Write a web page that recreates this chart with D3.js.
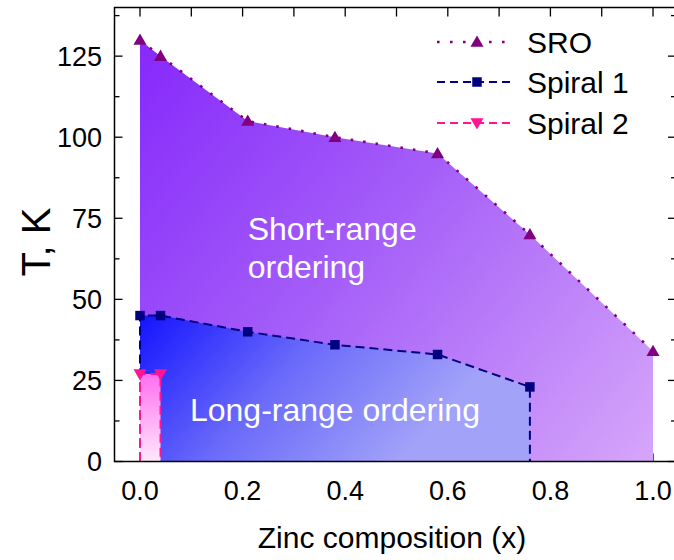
<!DOCTYPE html>
<html><head><meta charset="utf-8">
<script src="https://cdn.jsdelivr.net/npm/d3@7"></script>
<style>
body{margin:0;background:#fff}
svg{display:block}
text{font-family:"Liberation Sans",Arial,Helvetica,sans-serif;fill:#000}
</style>
</head><body>
<svg id="c" width="674" height="560"></svg>
<script>
// ---- data ----
const sroX = [0, 0.04, 0.21, 0.38, 0.58, 0.76, 1.0];
const sroT = [130, 125, 105, 100, 95, 70, 34];
const sp1X = [0, 0.04, 0.21, 0.38, 0.58, 0.76];
const sp1T = [45, 45, 40, 36, 33, 23];
const sp2X = [0, 0.04];
const sp2T = [27, 27];
const xTickVals = [0, 0.2, 0.4, 0.6, 0.8, 1.0];
const xTickLabels = ["0.0", "0.2", "0.4", "0.6", "0.8", "1.0"];
const xTopTicks = [0, 0.1, 0.2, 0.3, 0.4, 0.5, 0.6, 0.7, 0.8, 0.9, 1.0];
const yTickVals = [0, 25, 50, 75, 100, 125];
const yMinorVals = [12.5, 37.5, 62.5, 87.5, 112.5, 137.5];
const legendNames = ["SRO", "Spiral 1", "Spiral 2"];
const regionLabels = ["Short-range", "ordering", "Long-range ordering"];

// ---- layout ----
const L = 114.5, R = 676, T = 7.5, B = 461.5;
const svg = d3.select("#c");
const x = d3.scaleLinear().domain([-0.0497, 1.0448]).range([L, R]);
const y = d3.scaleLinear().domain([0, 140]).range([B, T]);

const sro = sroX.map((v, i) => [v, sroT[i]]);
const sp1 = sp1X.map((v, i) => [v, sp1T[i]]);
const sp2 = sp2X.map((v, i) => [v, sp2T[i]]);

// ---- gradients ----
const defs = svg.append("defs");
function grad(id, x1, y1, x2, y2, stops) {
  const g = defs.append("linearGradient").attr("id", id)
    .attr("gradientUnits", "userSpaceOnUse")
    .attr("x1", x1).attr("y1", y1).attr("x2", x2).attr("y2", y2);
  stops.forEach(s => g.append("stop").attr("offset", s[0]).attr("stop-color", s[1]));
}
grad("gSRO", x(0), y(135), x(1), y(0), [[0, "#8526fb"], [0.45, "#a35cf8"], [1, "#d6a6fa"]]);
grad("gSP1", x(0), y(45), x(0.42), y(-15), [[0, "#1414ff"], [0.5, "#6a6afa"], [1, "#a2a2f9"]]);
grad("gSP2", 0, y(27), 0, y(0), [[0, "#ff6ef0"], [1, "#ffe8fc"]]);

// ---- ticks (drawn under fills) ----
const tk = svg.append("g").attr("stroke", "#000").attr("stroke-width", 1.3);
yTickVals.forEach(v => {
  tk.append("line").attr("x1", L).attr("x2", L + 8).attr("y1", y(v)).attr("y2", y(v));
  tk.append("line").attr("x1", R).attr("x2", R - 8).attr("y1", y(v)).attr("y2", y(v));
});
yMinorVals.forEach(v => {
  tk.append("line").attr("x1", L).attr("x2", L + 5).attr("y1", y(v)).attr("y2", y(v));
  tk.append("line").attr("x1", R).attr("x2", R - 5).attr("y1", y(v)).attr("y2", y(v));
});
xTopTicks.forEach(v => {
  tk.append("line").attr("x1", x(v)).attr("x2", x(v)).attr("y1", T).attr("y2", T + 9);
  tk.append("line").attr("x1", x(v)).attr("x2", x(v)).attr("y1", B).attr("y2", B - 8);
});

// ---- fills ----
const area = d3.area().x(d => x(d[0])).y0(y(0)).y1(d => y(d[1]));
svg.append("path").datum(sro).attr("d", area).attr("fill", "url(#gSRO)");
svg.append("path").datum(sp1).attr("d", area).attr("fill", "url(#gSP1)");
svg.append("path").datum(sp2).attr("d", area).attr("fill", "url(#gSP2)");

// ---- text helper ----
function txt(sel, px, py, str, size, anchor) {
  return sel.append("text")
    .attr("transform", `translate(${px},${py})`)
    .attr("text-anchor", anchor || "start")
    .attr("font-size", size).text(str);
}
txt(svg, x(0.21), 240, regionLabels[0], 32).style("fill", "#fff");
txt(svg, x(0.21), 278, regionLabels[1], 32).style("fill", "#fff");
txt(svg, x(0.38), 421, regionLabels[2], 32, "middle").style("fill", "#fff");

// ---- lines ----
const line = d3.line().x(d => x(d[0])).y(d => y(d[1]));
const cSRO = "#800080", cS1 = "#000080", cS2 = "#ff1493";
svg.append("path").datum(sro).attr("d", line).attr("fill", "none")
  .attr("stroke", cSRO).attr("stroke-width", 2.6).attr("stroke-dasharray", "2.6,10");
svg.append("path").datum([[0, 0]].concat(sp1, [[sp1X[sp1X.length - 1], 0]])).attr("d", line)
  .attr("fill", "none").attr("stroke", cS1).attr("stroke-width", 2).attr("stroke-dasharray", "9,5");
svg.append("path").datum([[0, 0]].concat(sp2, [[sp2X[sp2X.length - 1], 0]])).attr("d", line)
  .attr("fill", "none").attr("stroke", cS2).attr("stroke-width", 2).attr("stroke-dasharray", "9,5");

// ---- markers ----
const triUp = d3.symbol().type(d3.symbolTriangle).size(74);
const sq = d3.symbol().type(d3.symbolSquare).size(90);
svg.append("g").selectAll("path").data(sro).join("path")
  .attr("d", triUp).attr("fill", cSRO)
  .attr("transform", d => `translate(${x(d[0])},${y(d[1]) + 1})`);
svg.append("g").selectAll("path").data(sp1).join("path")
  .attr("d", sq).attr("fill", cS1)
  .attr("transform", d => `translate(${x(d[0])},${y(d[1])})`);
svg.append("g").selectAll("path").data(sp2).join("path")
  .attr("d", triUp).attr("fill", cS2)
  .attr("transform", d => `translate(${x(d[0])},${y(d[1]) - 1}) rotate(180)`);

// ---- frame ----
svg.append("rect").attr("x", L).attr("y", T).attr("width", R - L).attr("height", B - T)
  .attr("fill", "none").attr("stroke", "#000").attr("stroke-width", 1.5);

// ---- tick labels ----
xTickVals.forEach((v, i) => txt(svg, x(v), 500, xTickLabels[i], 27, "middle"));
yTickVals.forEach(v => txt(svg, 102, y(v) + 9.5, String(v), 27, "end"));

// ---- axis titles ----
txt(svg, 392, 548, "Zinc composition (x)", 30, "middle");
svg.append("text").attr("transform", `translate(50,242) rotate(-90)`)
  .attr("text-anchor", "middle").attr("font-size", 40).text("T, K");

// ---- legend ----
const lg = svg.append("g");
const rowsY = [42, 82, 123];
const lgStyles = [
  {c: cSRO, dash: "2.6,10.4", w: 2.6, sym: triUp, rot: 0, dy: 1},
  {c: cS1, dash: "8,5", w: 2, sym: sq, rot: 0, dy: 0},
  {c: cS2, dash: "8,5", w: 2, sym: triUp, rot: 180, dy: -1}
];
legendNames.forEach((n, i) => {
  const s = lgStyles[i], yy = rowsY[i];
  lg.append("line").attr("x1", 437).attr("x2", 514).attr("y1", yy).attr("y2", yy)
    .attr("stroke", s.c).attr("stroke-width", s.w).attr("stroke-dasharray", s.dash);
  lg.append("path").attr("d", s.sym).attr("fill", s.c)
    .attr("transform", `translate(477,${yy + s.dy}) rotate(${s.rot})`);
  txt(lg, 527, yy + 11, n, 30);
});
</script>
</body></html>
